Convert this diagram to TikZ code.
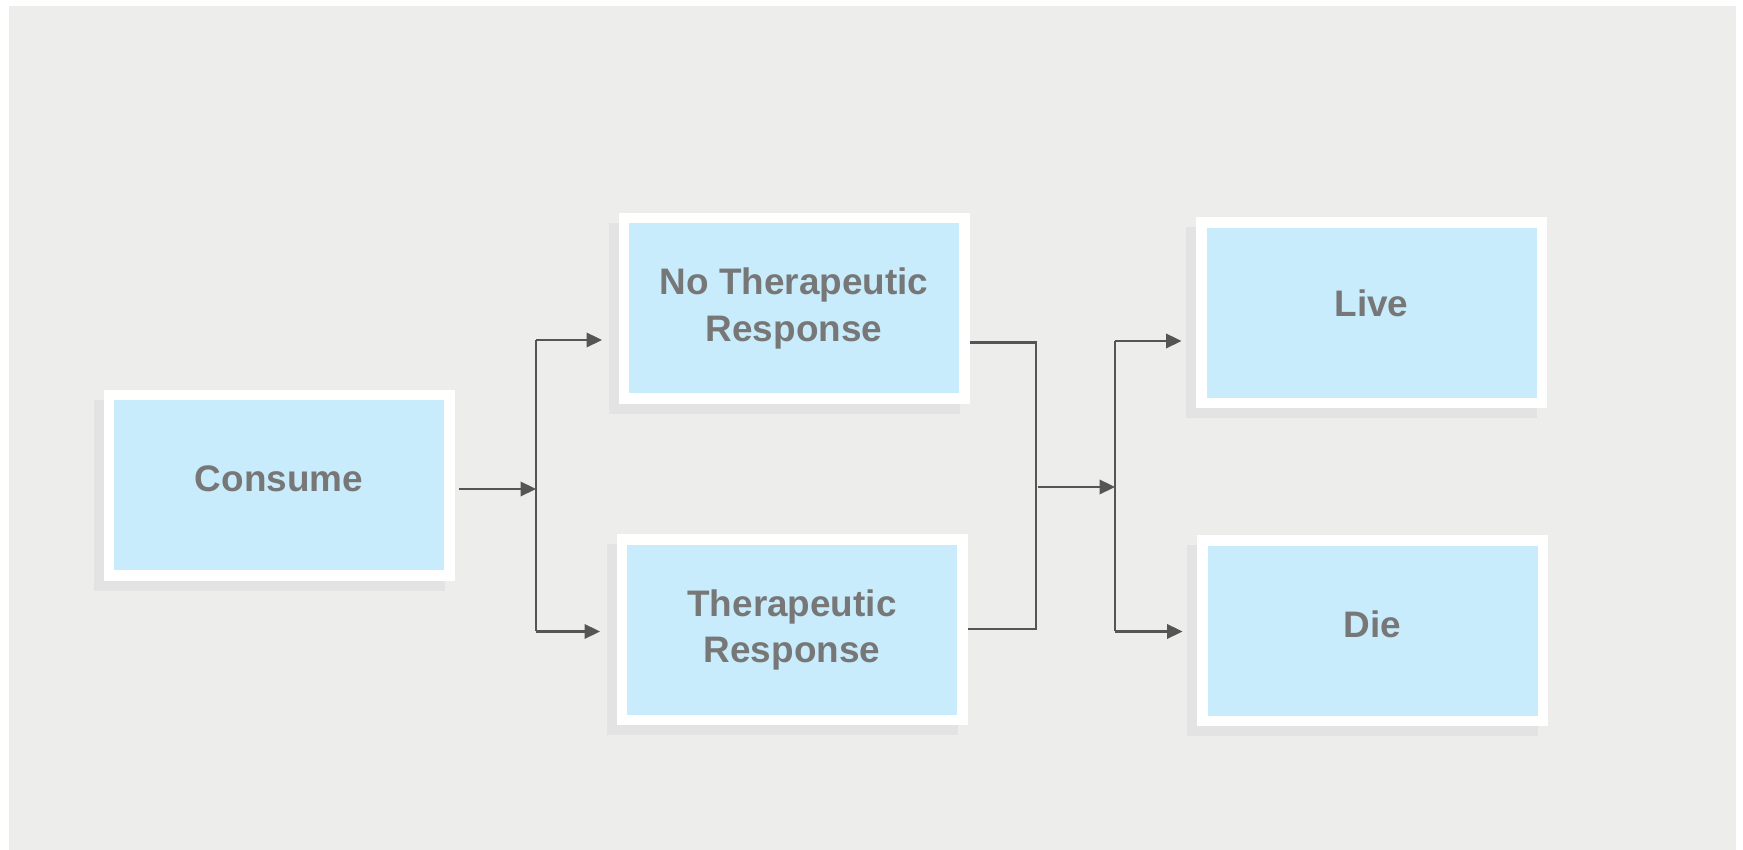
\documentclass[tikz,border=0pt]{standalone}
\usepackage{fontspec}
\setmainfont{Liberation Sans}
\usetikzlibrary{arrows.meta,shadows}

\definecolor{pagegray}{HTML}{EDEDEB}
\definecolor{shadowgray}{HTML}{E3E3E3}
\definecolor{boxblue}{HTML}{C8ECFC}
\definecolor{textgray}{HTML}{777777}
\definecolor{linegray}{HTML}{555555}

\tikzset{
  outcome/.style={draw=white, line width=0.21cm, fill=boxblue,
    minimum width=6.81cm, minimum height=3.61cm, inner sep=0pt,
    align=center, text=textgray,
    font=\fontsize{21}{26.7}\selectfont\bfseries,
    drop shadow={shadow xshift=-0.2cm, shadow yshift=-0.2cm,
      fill=shadowgray, draw=shadowgray, opacity=1}},
  lifted/.style={text depth=#1},
  link/.style={draw=linegray, line width=0.045cm},
  tip/.style={-{Triangle[length=0.31cm, width=0.29cm]}}
}

\begin{document}
\begin{tikzpicture}

      \useasboundingbox (0,0) rectangle (34.86,17) ;
      \fill [pagegray] (0.18,0) rectangle (34.72,16.87) ;

      \node [outcome, lifted=0.27cm] (consume) at (5.58, 7.29) {Consume} ;
      \node [outcome] (noresp) at (15.88, 10.83) {No Therapeutic\\Response} ;
      \node [outcome] (resp) at (15.84, 4.40) {Therapeutic\\Response} ;
      \node [outcome, lifted=0.4cm] (live) at (27.43, 10.74) {Live} ;
      \node [outcome, lifted=0.27cm] (die) at (27.45, 4.38) {Die} ;

      \coordinate (split) at (10.72, 7.22) ;
      \coordinate (splittop) at (10.72, 10.2) ;
      \coordinate (splitbot) at (10.72, 4.37) ;

      \coordinate (jointop) at (20.72, 10.15) ;
      \coordinate (joinbot) at (20.72, 4.42) ;
      \coordinate (join) at (20.72, 7.26) ;

      \coordinate (fork) at (22.30, 7.26) ;
      \coordinate (forktop) at (22.30, 10.18) ;
      \coordinate (forkbot) at (22.30, 4.37) ;

      \draw [link, tip, shorten <=0.09cm] (consume.east |- split) -- (split) ;
      \draw [link] (splittop) -- (splitbot) ;
      \draw [link, tip, shorten >=0.33cm] (splittop) -- (splittop -| noresp.west) ;
      \draw [link, tip, shorten >=0.33cm] (splitbot) -- (splitbot -| resp.west) ;

      \draw [link] (jointop -| noresp.east) -- (jointop) -- (joinbot) -- (joinbot -| resp.east) ;

      \draw [link, tip, shorten <=0.04cm] (join) -- (fork) ;
      \draw [link] (forktop) -- (forkbot) ;
      \draw [link, tip, shorten >=0.29cm] (forktop) -- (forktop -| live.west) ;
      \draw [link, tip, shorten >=0.29cm] (forkbot) -- (forkbot -| die.west) ;

    \end{tikzpicture}
\end{document}
